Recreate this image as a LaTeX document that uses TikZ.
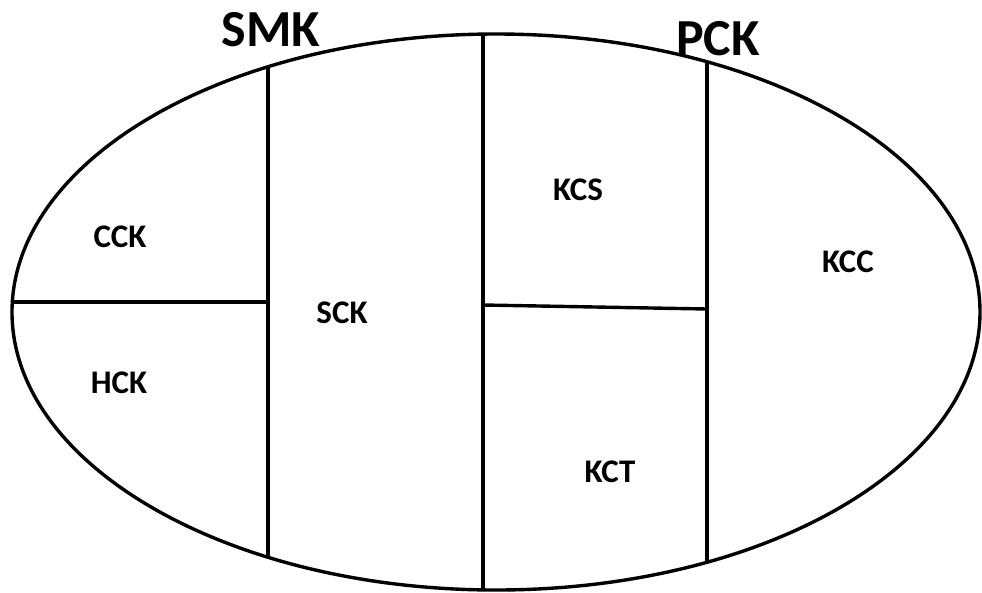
\documentclass[tikz,border=0pt]{standalone}
\usepackage{fontspec}
\setmainfont{Carlito}
\tikzset{
    region/.style={font=\bfseries\fontsize{33}{38}\selectfont, inner sep=0pt},
    title/.style={font=\bfseries\fontsize{52}{58}\selectfont, inner sep=0pt},
    wall/.style={line width=3.4pt}
}
\begin{document}
\begin{tikzpicture}[x=1pt, y=-1pt]
        \useasboundingbox (0, 0) rectangle (982, 592);

        \draw[wall] (496, 312) ellipse [x radius=484, y radius=278];

        \coordinate (lt) at (268, 67);
        \coordinate (lb) at (268, 557);
        \coordinate (mt) at (483, 34);
        \coordinate (mb) at (483, 590);
        \coordinate (rt) at (707, 62);
        \coordinate (rb) at (707, 562);
        \coordinate (hl) at (12.3, 302);
        \coordinate (hr) at (268, 302);
        \coordinate (kl) at (483, 305);
        \coordinate (kr) at (707, 309);

        \draw[wall] (lt) -- (lb);
        \draw[wall] (mt) -- (mb);
        \draw[wall] (rt) -- (rb);
        \draw[wall] (hl) -- (hr);
        \draw[wall] (kl) -- (kr);

        \node[title] (smk) at (271, 30) {SMK};
        \node[title] (pck) at (718, 39) {PCK};

        \node[region] (cck) at (120, 237) {CCK};
        \node[region] (hck) at (119, 383) {HCK};
        \node[region] (sck) at (342, 313) {SCK};
        \node[region] (kcs) at (578, 190) {KCS};
        \node[region] (kcc) at (848, 262) {KCC};
        \node[region] (kct) at (610, 472) {KCT};

    \end{tikzpicture}
\end{document}
